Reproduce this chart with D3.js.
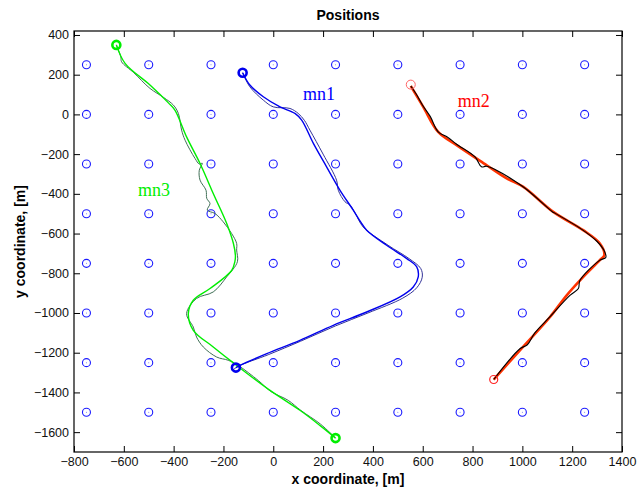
<!DOCTYPE html>
<html>
<head>
<meta charset="utf-8">
<script src="https://cdn.jsdelivr.net/npm/d3@7"></script>
<style>
  body { margin: 0; background: #fff; }
</style>
</head>
<body>
<svg></svg>
<script>
const svgWidth = 637
const svgHeight = 493
const margins = { top: 31, bottom: 41, left: 74, right: 15 }
const plotWidth = svgWidth - margins.left - margins.right
const plotHeight = svgHeight - margins.top - margins.bottom

// tick values
const xTicks = [-800, -600, -400, -200, 0, 200, 400, 600, 800, 1000, 1200, 1400]
const yTicks = [-1600, -1400, -1200, -1000, -800, -600, -400, -200, 0, 200, 400]

// anchor grid (blue circles)
const gridX = [-750, -500, -250, 0, 250, 500, 750, 1000, 1250]
const gridY = [250, 0, -250, -500, -750, -1000, -1250, -1500]

// mn1: estimate (thick) and true track (thin)
const mn1Est = [[-123, 210], [-94, 148], [-40, 89], [27, 38], [87, 5], [114, -29], [161, -146], [214, -264],
  [268, -382], [321, -482], [350, -540], [375, -583], [455, -659], [536, -726], [576, -768], [582, -818],
  [562, -869], [509, -919], [375, -995], [241, -1062], [107, -1138], [-26, -1205], [-134, -1264], [-150, -1275]]
const mn1True = [[-123, 210], [-94, 139], [-40, 72], [0, 38], [67, 30], [100, 5], [125, -30], [147, -79],
  [200, -200], [254, -331], [261, -382], [288, -440], [308, -457], [330, -500], [361, -567], [461, -659],
  [545, -726], [592, -776], [598, -820], [576, -873], [520, -925], [380, -1000], [250, -1065], [110, -1142],
  [-20, -1210], [-140, -1268], [-165, -1290]]

// mn2
const mn2Est = [[552, 143], [602, 38], [662, -88], [736, -155], [857, -256], [937, -322], [1004, -365],
  [1124, -491], [1244, -583], [1311, -650], [1329, -709], [1311, -734], [1238, -827], [1178, -911],
  [1111, -1020], [990, -1188], [885, -1335]]
const mn2True = [[552, 143], [575, 100], [600, 45], [630, -10], [662, -88], [700, -115], [736, -150],
  [810, -214], [836, -264], [857, -261], [1000, -362], [1120, -490], [1130, -497], [1240, -580],
  [1300, -640], [1330, -690], [1335, -720], [1310, -735], [1231, -836], [1225, -877], [1191, -911],
  [1110, -1020], [1050, -1100], [1020, -1160], [990, -1180], [885, -1335]]

// mn3
const mn3Est = [[-630, 350], [-595, 257], [-495, 148], [-421, 58], [-395, 22], [-348, -113], [-294, -247],
  [-241, -398], [-187, -549], [-160, -650], [-152, -710], [-154, -740], [-167, -786], [-254, -877],
  [-321, -936], [-341, -1003], [-321, -1087], [-241, -1171], [-147, -1264], [-13, -1390], [107, -1490],
  [187, -1566], [250, -1630]]
const mn3True = [[-630, 350], [-612, 290], [-609, 265], [-560, 210], [-495, 131], [-440, 85], [-401, 47],
  [-381, 5], [-368, -79], [-354, -130], [-314, -222], [-297, -250], [-285, -246], [-297, -281],
  [-294, -331], [-270, -382], [-267, -423], [-254, -449], [-265, -482], [-234, -499], [-201, -541],
  [-167, -600], [-147, -650], [-147, -683], [-144, -742], [-187, -818], [-241, -894], [-308, -927],
  [-348, -1003], [-321, -1071], [-308, -1121], [-281, -1171], [-227, -1222], [-181, -1238], [-141, -1264],
  [-60, -1340], [-10, -1395], [60, -1440], [110, -1490], [190, -1560], [250, -1630]]

const labels = [
  { text: "mn1", x: 119, y: 72, color: "#0000ff" },
  { text: "mn2", x: 741, y: 38, color: "#ff0000" },
  { text: "mn3", x: -543, y: -410, color: "#00ee00" }
]

const svg = d3.select("svg")
  .attr("width", svgWidth)
  .attr("height", svgHeight)

const xScale = d3.scaleLinear()
  .domain([-800, 1400])
  .range([margins.left, margins.left + plotWidth])
const yScale = d3.scaleLinear()
  .domain([-1700, 420])
  .range([margins.top + plotHeight, margins.top])

const tickFont = "Liberation Sans, Arial, sans-serif"
const tickFormat = d3.format("d")

// axes with inward ticks
svg.append("g")
  .attr("transform", `translate(0,${margins.top + plotHeight})`)
  .call(d3.axisBottom(xScale).tickValues(xTicks).tickSize(-6).tickPadding(5).tickFormat(tickFormat))
svg.append("g")
  .attr("transform", `translate(${margins.left},0)`)
  .call(d3.axisLeft(yScale).tickValues(yTicks).tickSize(-6).tickPadding(5).tickFormat(tickFormat))
svg.append("g")
  .attr("transform", `translate(0,${margins.top})`)
  .call(d3.axisTop(xScale).tickValues(xTicks).tickSize(-6).tickFormat(""))
svg.append("g")
  .attr("transform", `translate(${margins.left + plotWidth},0)`)
  .call(d3.axisRight(yScale).tickValues(yTicks).tickSize(-6).tickFormat(""))

svg.selectAll(".domain").remove()
svg.selectAll(".tick line").attr("stroke", "#000")
svg.selectAll(".tick text")
  .attr("font-family", tickFont)
  .attr("font-size", 12.5)
  .attr("fill", "#111")

svg.append("rect")
  .attr("x", margins.left)
  .attr("y", margins.top)
  .attr("width", plotWidth)
  .attr("height", plotHeight)
  .attr("fill", "none")
  .attr("stroke", "#000")
  .attr("stroke-width", 1.2)

// titles
svg.append("text")
  .text("Positions")
  .attr("x", margins.left + plotWidth / 2)
  .attr("y", 20)
  .attr("text-anchor", "middle")
  .attr("font-family", tickFont)
  .attr("font-weight", "bold")
  .attr("font-size", 14)

svg.append("text")
  .text("x coordinate, [m]")
  .attr("x", margins.left + plotWidth / 2)
  .attr("y", 484)
  .attr("text-anchor", "middle")
  .attr("font-family", tickFont)
  .attr("font-weight", "bold")
  .attr("font-size", 14)

svg.append("text")
  .text("y coordinate, [m]")
  .attr("transform", `translate(25,${margins.top + plotHeight / 2}) rotate(-90)`)
  .attr("text-anchor", "middle")
  .attr("font-family", tickFont)
  .attr("font-weight", "bold")
  .attr("font-size", 14)

// grid of anchors
const gridPoints = []
gridY.forEach((gy) => {
  gridX.forEach((gx) => {
    gridPoints.push([gx, gy])
  })
})

const gridGroup = svg.append("g")
gridGroup.selectAll(".anchor")
  .data(gridPoints)
  .enter()
  .append("circle")
  .attr("cx", (d) => xScale(d[0]))
  .attr("cy", (d) => yScale(d[1]))
  .attr("r", 4)
  .attr("fill", "none")
  .attr("stroke", "#1a1aff")
  .attr("stroke-width", 1.1)
gridGroup.selectAll(".anchor-dot")
  .data(gridPoints)
  .enter()
  .append("circle")
  .attr("cx", (d) => xScale(d[0]))
  .attr("cy", (d) => yScale(d[1]))
  .attr("r", 0.5)
  .attr("fill", "#6666ff")

// tracks
const line = d3.line()
  .x((d) => xScale(d[0]))
  .y((d) => yScale(d[1]))
  .curve(d3.curveCatmullRom.alpha(0.5))

const tracks = [
  { data: mn3True, color: "#3f6f55", width: 1 },
  { data: mn3Est, color: "#00ee00", width: 1.4 },
  { data: mn1True, color: "#333399", width: 1 },
  { data: mn1Est, color: "#0000ee", width: 1.4 },
  { data: mn2Est, color: "#ff3300", width: 2.6 },
  { data: mn2True, color: "#000", width: 1.1 }
]

const trackGroup = svg.append("g")
tracks.forEach((t) => {
  trackGroup.append("path")
    .datum(t.data)
    .attr("d", line)
    .attr("fill", "none")
    .attr("stroke", t.color)
    .attr("stroke-width", t.width)
    .attr("stroke-linejoin", "round")
})

// start / end markers
const markers = [
  { p: mn1Est[0], color: "#0000ee", width: 2.6, r: 4 },
  { p: mn1Est[mn1Est.length - 1], color: "#0000ee", width: 2.6, r: 4 },
  { p: mn3Est[0], color: "#00ee00", width: 2.6, r: 4 },
  { p: mn3Est[mn3Est.length - 1], color: "#00ee00", width: 2.6, r: 4 },
  { p: [552, 150], color: "#ff6666", width: 1, r: 4.5 },
  { p: mn2Est[mn2Est.length - 1], color: "#ff2222", width: 1.2, r: 4 }
]
trackGroup.selectAll(".marker")
  .data(markers)
  .enter()
  .append("circle")
  .attr("cx", (d) => xScale(d.p[0]))
  .attr("cy", (d) => yScale(d.p[1]))
  .attr("r", (d) => d.r)
  .attr("fill", "none")
  .attr("stroke", (d) => d.color)
  .attr("stroke-width", (d) => d.width)

svg.selectAll(".track-label")
  .data(labels)
  .enter()
  .append("text")
  .text((d) => d.text)
  .attr("x", (d) => xScale(d.x))
  .attr("y", (d) => yScale(d.y))
  .attr("fill", (d) => d.color)
  .attr("font-family", "Liberation Serif, Times New Roman, serif")
  .attr("font-size", 18)
</script>
</body>
</html>
